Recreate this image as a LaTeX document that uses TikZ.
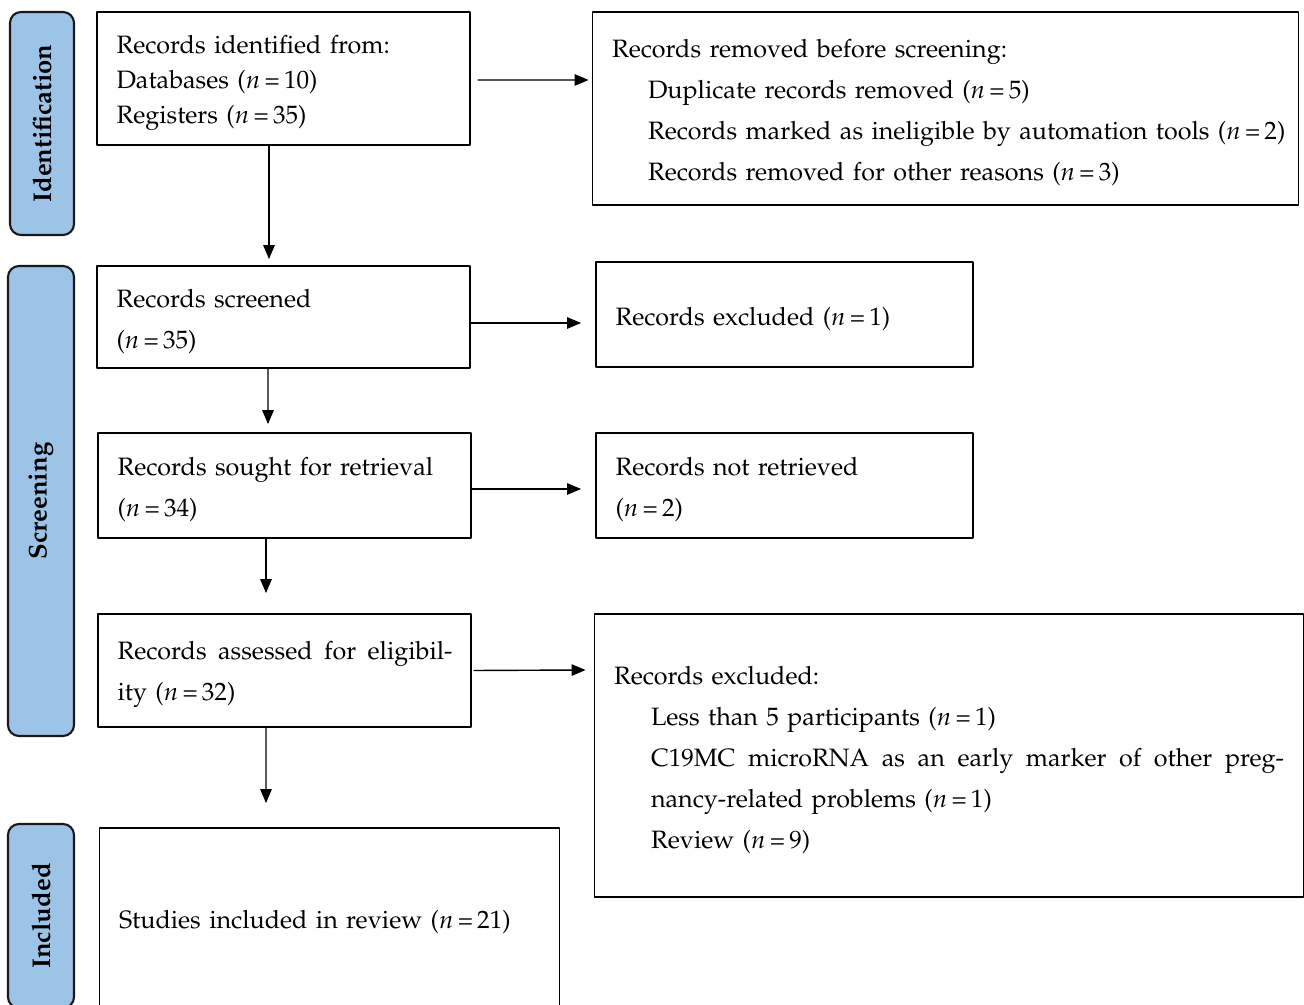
\documentclass[tikz,border=0pt]{standalone}
\usepackage[T1]{fontenc}
\usepackage{mathpazo}
\usepackage{pgf,tikz}
\usetikzlibrary{arrows,positioning}
\definecolor{aaccee}{rgb}{0.615686,0.764706,0.901961}
\definecolor{uuuuuu}{rgb}{0.1,0.1,0.1}
\newcommand{\nval}[1]{($n$\,=\,#1)}
\newcommand{\tgap}{\rule{0pt}{15.2pt}}
\tikzset{
  stagebox/.style={draw=uuuuuu,line width=1.2pt,rounded corners=0.22cm,fill=aaccee,rotate=90,minimum height=1.28cm,font=\fontsize{14.6}{16}\selectfont\bfseries},
  recbox/.style={draw=black,line width=1.1pt,align=left,inner xsep=0.39cm,inner ysep=0pt,font=\fontsize{14.3}{23.3}\selectfont}
}
\begin{document}
\begin{tikzpicture}[line cap=round,line join=round,>=triangle 45]
\useasboundingbox (0,0) rectangle (26.08,-20.10);
\clip (0,0) rectangle (26.08,-20.10);
\node[stagebox,minimum width=4.46cm] (identlab) at (0.84,-2.47) {Identification};
\node[stagebox,minimum width=9.40cm,minimum height=1.32cm] (screenlab) at (0.82,-10.02) {Screening};
\node[stagebox,minimum width=3.68cm,minimum height=1.32cm] (inclab) at (0.82,-18.32) {Included};
\node[recbox,text width=6.68cm,minimum height=2.66cm,font=\fontsize{14.3}{19.9}\selectfont] (ident) at (5.67,-1.57) {\tgap Records identified from:\\Databases \nval{10}\\Registers \nval{35}};
\node[recbox,text width=13.34cm,minimum height=3.86cm] (removed) at (18.91,-2.17) {\tgap Records removed before screening:\\
  \hspace*{0.72cm}Duplicate records removed \nval{5}\\
  \hspace*{0.72cm}\mbox{Records marked as ineligible by automation tools \nval{2}}\\
  \hspace*{0.72cm}Records removed for other reasons \nval{3}};
\node[recbox,text width=6.68cm,minimum height=2.04cm] (screened) at (5.67,-6.34) {\tgap Records screened\\\nval{35}};
\node[recbox,text width=6.76cm,minimum height=2.10cm] (excl) at (15.69,-6.29) {\tgap Records excluded \nval{1}};
\node[recbox,text width=6.68cm,minimum height=2.10cm] (sought) at (5.69,-9.71) {\tgap Records sought for retrieval\\\nval{34}};
\node[recbox,text width=6.76cm,minimum height=2.10cm] (notret) at (15.69,-9.71) {\tgap Records not retrieved\\\nval{2}};
\node[recbox,text width=6.68cm,minimum height=2.26cm] (assessed) at (5.69,-13.41) {\tgap\hbox to 6.70cm{Records\hfil\ assessed\hfil\ for\hfil\ eligibil-}\\ity \nval{32}};
\node[recbox,text width=13.40cm,minimum height=5.66cm] (exclb) at (18.98,-15.11) {\tgap Records excluded:\\
  \hspace*{0.74cm}Less than 5 participants \nval{1}\\
  \hspace*{0.74cm}\hbox to 12.66cm{C19MC\hfil\ microRNA\hfil\ as\hfil\ an\hfil\ early\hfil\ marker\hfil\ of\hfil\ other\hfil\ preg-}\\
  \hspace*{0.74cm}nancy-related problems \nval{1}\\
  \hspace*{0.74cm}Review \nval{9}};
\node[recbox,text width=8.42cm,minimum height=3.60cm] (included) at (6.59,-18.36) {\tgap Studies included in review \nval{21}};
\draw [->,line width=0.8pt] ([xshift=-0.29cm]ident.south) -- ([xshift=-0.29cm,yshift=0.12cm]screened.north);
\draw [->,line width=0.8pt] ([xshift=0.14cm,yshift=-0.03cm]ident.east) -- ([xshift=-0.06cm,yshift=0.57cm]removed.west);
\draw [->,line width=0.8pt] ([xshift=-0.31cm]screened.south) -- ([xshift=-0.33cm,yshift=0.16cm]sought.north);
\draw [->,line width=0.8pt] ([yshift=-0.12cm]screened.east) -- ([xshift=-0.28cm,yshift=-0.17cm]excl.west);
\draw [->,line width=0.8pt] ([xshift=-0.37cm]sought.south) -- ([xshift=-0.37cm,yshift=0.40cm]assessed.north);
\draw [->,line width=0.8pt] ([yshift=-0.07cm]sought.east) -- ([xshift=-0.28cm,yshift=-0.07cm]notret.west);
\draw [->,line width=0.8pt] ([xshift=-0.37cm]assessed.south) -- ([xshift=-1.27cm,yshift=0.48cm]included.north);
\draw [->,line width=0.8pt] ([xshift=0.04cm]assessed.east) -- ([xshift=-0.16cm,yshift=1.71cm]exclb.west);
\end{tikzpicture}
\end{document}
